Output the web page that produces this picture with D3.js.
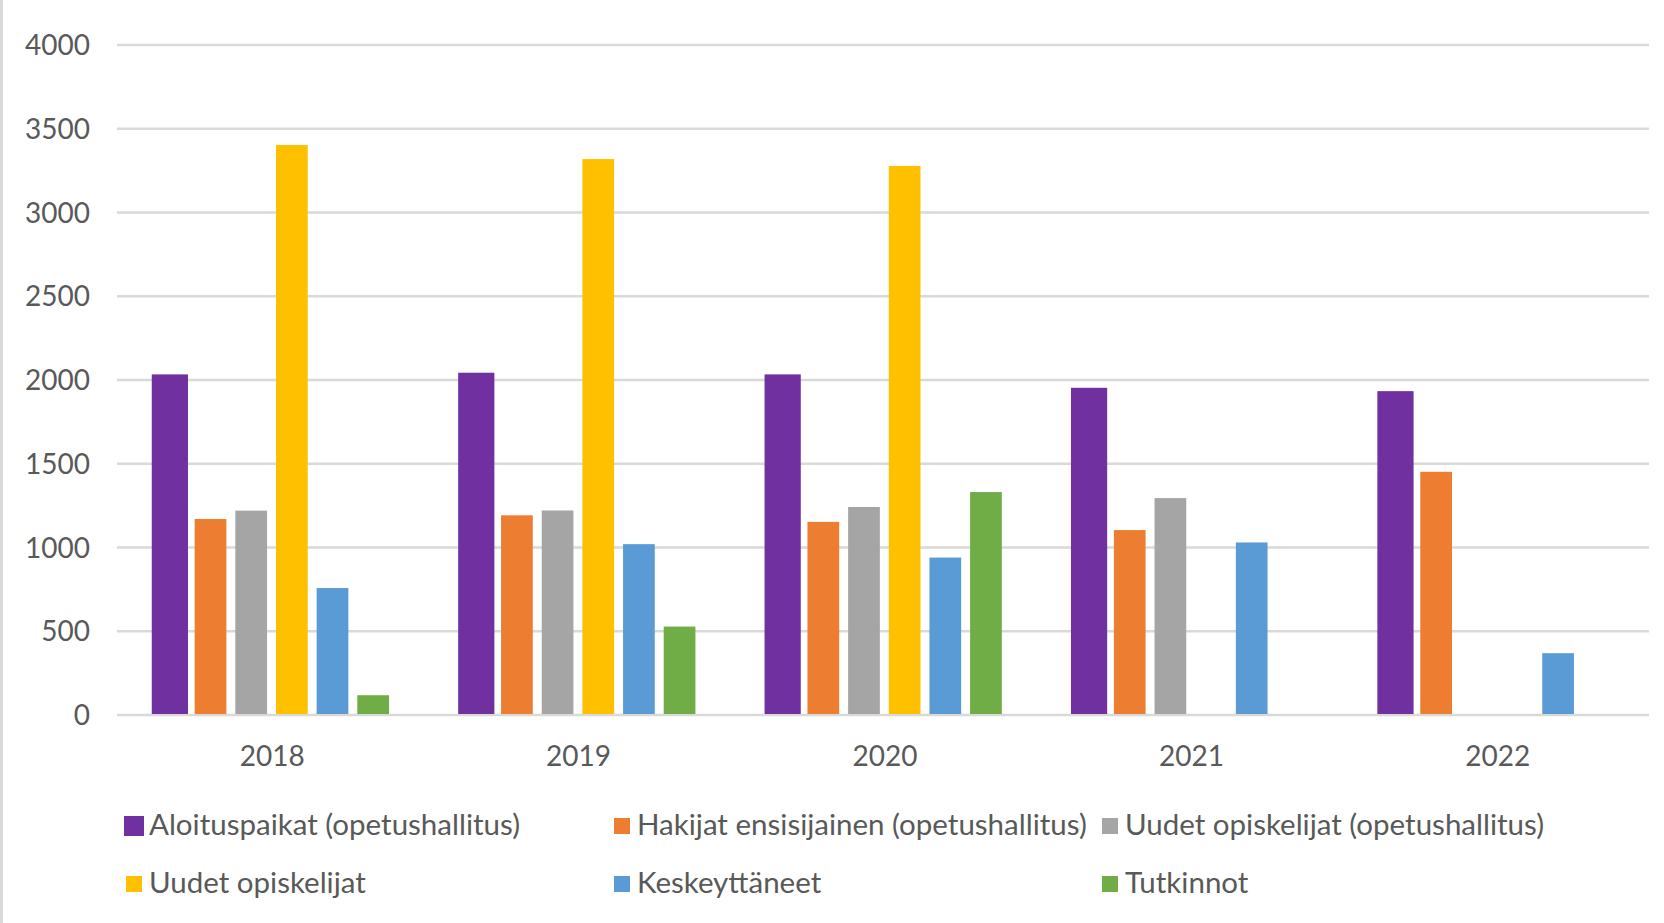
<!DOCTYPE html>
<html>
<head>
<meta charset="utf-8">
<script src="https://cdn.jsdelivr.net/npm/d3@7"></script>
<style>
  body { margin: 0; background: #fff; }
  svg { display: block; font-family: Lato, "Open Sans", sans-serif; }
</style>
</head>
<body>
<svg></svg>
<script>
const width = 1664;
const height = 923;

// data
const years = ['2018', '2019', '2020', '2021', '2022'];
const seriesNames = [
    'Aloituspaikat (opetushallitus)',
    'Hakijat ensisijainen (opetushallitus)',
    'Uudet opiskelijat (opetushallitus)',
    'Uudet opiskelijat',
    'Keskeyttäneet',
    'Tutkinnot'
];
const aloituspaikat = [2020, 2030, 2020, 1940, 1920];
const hakijat = [1170, 1192, 1153, 1104, 1452];
const uudetOph = [1220, 1221, 1242, 1295, null];
const uudet = [3403, 3319, 3278, null, null];
const keskeyttaneet = [758, 1020, 940, 1030, 369];
const tutkinnot = [118, 528, 1331, null, null];
const yTicks = [0, 500, 1000, 1500, 2000, 2500, 3000, 3500, 4000];

const seriesValues = [aloituspaikat, hakijat, uudetOph, uudet, keskeyttaneet, tutkinnot];
const colors = ['#7030A0', '#ED7D31', '#A5A5A5', '#FFC000', '#5B9BD5', '#70AD47'];

const margin = {left: 117, right: 15, top: 45, bottom: 208};
const textColor = '#595959';
const fontSize = 28;
const legendFontSize = 29.5;

const svg = d3.select('svg')
    .attr('width', width).attr('height', height);

// outer chart border on the left edge
svg.append('line')
    .attr('x1', 1.5).attr('x2', 1.5)
    .attr('y1', 0).attr('y2', height)
    .style('stroke', '#D9D9D9')
    .style('stroke-width', 3);

const x0 = d3.scaleBand()
    .domain(years)
    .range([margin.left, width - margin.right]);

const bw = x0.bandwidth();
const x1 = d3.scaleBand()
    .domain(seriesNames)
    .range([bw * 0.1208, bw * 0.8878])
    .paddingInner(0.22);

const y = d3.scaleLinear()
    .domain([0, 4000])
    .range([height - margin.bottom, margin.top]);

// keep bar outlines from dipping below the zero line
svg.append('clipPath')
    .attr('id', 'plot-clip')
    .append('rect')
    .attr('x', margin.left)
    .attr('y', 0)
    .attr('width', width - margin.left - margin.right)
    .attr('height', y(0) - 1);

// gridlines
svg.append('g')
    .selectAll('line')
    .data(yTicks)
    .enter().append('line')
    .attr('x1', margin.left)
    .attr('x2', width - margin.right)
    .attr('y1', d => y(d))
    .attr('y2', d => y(d))
    .style('stroke', '#D9D9D9')
    .style('stroke-width', 2.5);

// y labels
svg.append('g')
    .selectAll('text')
    .data(yTicks)
    .enter().append('text')
    .attr('x', 90)
    .attr('y', d => y(d))
    .attr('dy', '0.36em')
    .attr('text-anchor', 'end')
    .style('fill', textColor)
    .style('font-size', fontSize + 'px')
    .text(d => d);

// bars
const rows = [];
years.forEach((yr, i) => {
    seriesNames.forEach((s, j) => {
        const v = seriesValues[j][i];
        if (v != null) rows.push({year: yr, series: s, value: v, idx: j});
    });
});

svg.append('g')
    .attr('clip-path', 'url(#plot-clip)')
    .selectAll('rect')
    .data(rows)
    .enter().append('rect')
    .attr('x', d => x0(d.year) + x1(d.series))
    .attr('y', d => y(d.value))
    .attr('width', x1.bandwidth())
    .attr('height', d => y(0) - y(d.value))
    .style('fill', d => colors[d.idx])
    .style('stroke', d => d.idx === 0 ? colors[0] : 'none')
    .style('stroke-width', 4.5);

// x labels
svg.append('g')
    .selectAll('text')
    .data(years)
    .enter().append('text')
    .attr('x', d => x0(d) + bw / 2 + 2)
    .attr('y', 766)
    .attr('text-anchor', 'middle')
    .style('fill', textColor)
    .style('font-size', fontSize + 'px')
    .text(d => d);

// legend, 3 columns x 2 rows
const legend = svg.append('g')
    .selectAll('g')
    .data(seriesNames)
    .enter().append('g')
    .attr('transform', (d, i) => `translate(${126 + (i % 3) * 488},${i < 3 ? 835 : 893})`);

legend.append('rect')
    .attr('x', 0)
    .attr('y', -17)
    .attr('width', 16)
    .attr('height', 16)
    .style('fill', (d, i) => colors[i])
    .style('stroke', (d, i) => i === 0 ? colors[0] : 'none')
    .style('stroke-width', 4);

legend.append('text')
    .attr('x', 23)
    .attr('y', 0)
    .style('fill', textColor)
    .style('font-size', legendFontSize + 'px')
    .text(d => d);
</script>
</body>
</html>
